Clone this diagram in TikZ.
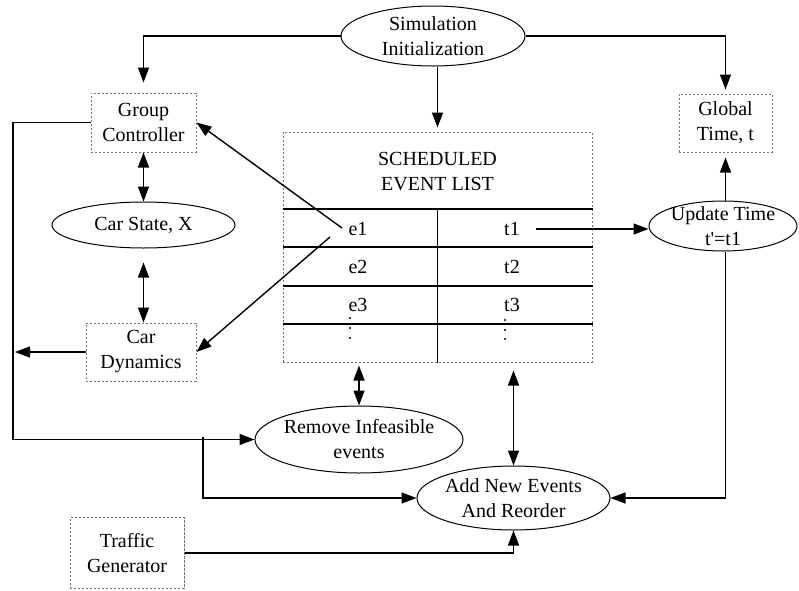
\documentclass[tikz,border=0pt]{standalone}
\usepackage{fontspec}
\setmainfont{Liberation Serif}
\usetikzlibrary{arrows.meta,shapes.geometric,calc}
\begin{document}
\begin{tikzpicture}[x=0.5pt,y=-0.5pt,
  font=\fontsize{10}{12.5}\selectfont,
  box/.style={draw=black!55, dash pattern=on 1.2pt off 0.8pt, line width=0.5pt, inner sep=0pt, align=center},
  oval/.style={draw, ellipse, line width=0.5pt, inner sep=0pt},
  conn/.style={line width=0.7pt, -{Triangle[length=7.5pt,width=5.5pt]}},
  dconn/.style={line width=0.7pt, {Triangle[length=7.5pt,width=5.5pt]}-{Triangle[length=7.5pt,width=5.5pt]}},
  rowline/.style={line width=0.7pt},
  dot/.style={fill=black},
]
\useasboundingbox (0,0) rectangle (799,590);

% nodes
\node[oval, minimum width=92pt, minimum height=30pt,
  label={[align=center]center:Simulation\\Initialization}] (sim) at (433,36) {};
\node[box, minimum width=52.5pt, minimum height=29.5pt] (gc) at (143.5,122.5) {Group\\Controller};
\node[box, minimum width=46.5pt, minimum height=29pt] (gt) at (725.5,123) {Global\\Time, t};
\node[box, minimum width=154.5pt, minimum height=115pt] (lst) at (437.5,247) {};
\node[align=center] (sch) at (437.5,172) {SCHEDULED\\EVENT LIST};
\node[inner sep=1pt] (e1) at (358,229) {e1};
\node[inner sep=1pt] (e2) at (358,267) {e2};
\node[inner sep=1pt] (e3) at (358,305) {e3};
\node[inner sep=1pt] (t1) at (512,229) {t1};
\node[inner sep=1pt] (t2) at (512,267) {t2};
\node[inner sep=1pt] (t3) at (512,305) {t3};
\node[oval, minimum width=91.5pt, minimum height=23pt] (cs) at (143.5,225) {Car State, X};
\node[box, minimum width=55pt, minimum height=29pt] (cd) at (141,352) {Car\\Dynamics};
\node[oval, minimum width=104pt, minimum height=33.5pt,
  label={[align=center]center:Remove Infeasible\\events}] (ri) at (359,439.5) {};
\node[oval, minimum width=96.5pt, minimum height=32pt,
  label={[align=center]center:Add New Events\\And Reorder}] (an) at (513.5,498) {};
\node[oval, minimum width=74pt, minimum height=25pt,
  label={[align=center]center:Update Time\\t\textquotesingle=t1}] (ut) at (723,226) {};
\node[box, minimum width=57pt, minimum height=35.5pt] (tg) at (127,553) {Traffic\\Generator};

% list table lines
\foreach \y in {209,247,286,324}
  \draw[rowline] (lst.west |- 0,\y) -- (lst.east |- 0,\y);
\draw[rowline] (lst.south |- 0,209) -- (lst.south);

% continuation dots
\foreach \y in {318,328,338} \fill[dot] (350,\y) circle (0.6pt);
\foreach \y in {320,330,339} \fill[dot] (505,\y) circle (0.6pt);

% helper coordinates
\coordinate (e1a) at (342,228);
\coordinate (e1b) at (330,237);
\coordinate (lft) at (13,352);
\coordinate (br) at (203,437);

% connectors
\draw[conn, shorten >=5pt] (sim.west) -| (gc.north);
\draw[conn, shorten >=2pt] (sim.east) -| (gt.north);
\draw[conn, shorten >=2pt] (lst.north |- sim.south) -- (lst.north);
\draw[conn] (e1a) -- (gc.east);
\draw[conn] (e1b) -- (cd.east);
\draw[dconn] (gc.south -| cs.north) -- (cs.north);
\draw[dconn, shorten <=7pt] (cs.south) -- (cs.south |- cd.north);
\draw[conn] (gc.west) -- (gc.west -| lft) |- (ri.west);
\draw[conn, shorten >=1pt] (cd.west) -- (lft);
\draw[conn] (br) |- (an.west);
\draw[conn, shorten <=7pt] (t1.east) -- (t1.east -| ut.west);
\draw[conn, shorten >=2.5pt] (gt.south |- ut.north) -- (gt.south);
\draw[conn] (gt.south |- ut.south) |- (an.east);
\draw[conn] (tg.east) -| (an.south);
\draw[dconn, shorten <=1.5pt] (ri.north |- lst.south) -- (ri.north);
\draw[dconn, shorten <=4pt] (an.north |- lst.south) -- (an.north);
\end{tikzpicture}
\end{document}
